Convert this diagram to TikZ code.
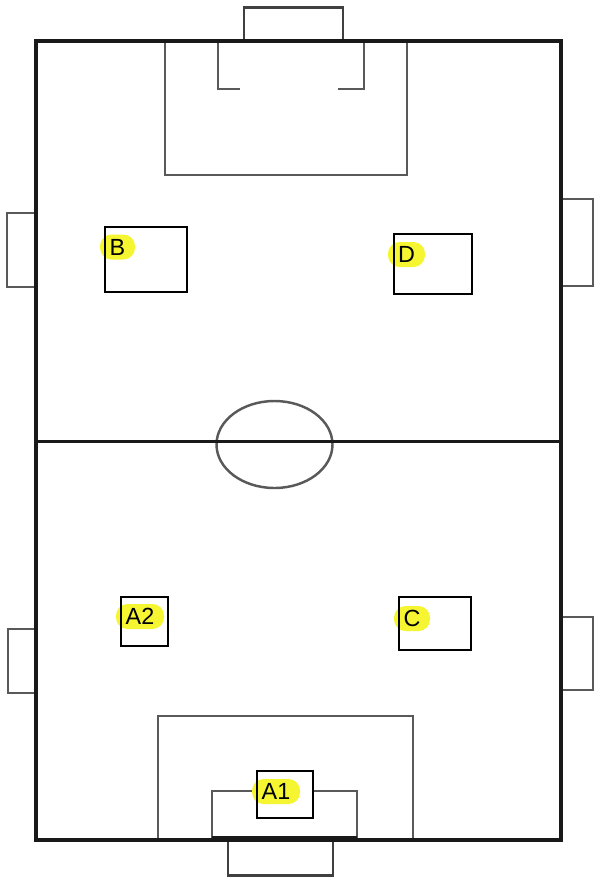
\documentclass[tikz,border=0pt]{standalone}
\usepackage{fontspec}
\setmainfont{Liberation Sans}
\definecolor{marker}{RGB}{245,245,50}
\tikzset{
  pitch/.style={
    line width=2.1pt,
    draw=black!90
  },
  area/.style={
    line width=1.4pt,
    draw=black!65
  },
  goal/.style={
    line width=1.7pt,
    draw=black!75
  },
  zone/.style={
    line width=1.5pt,
    draw=black
  },
  tag/.style={
    shape = rectangle,
    fill=marker,
    rounded corners=0.23cm,
    inner sep=0pt,
    minimum height=0.5cm,
    font=\fontsize{13.3}{15}\selectfont
  },
}

\begin{document}
\begin{tikzpicture}[x=0.02cm,y=-0.02cm]
  \useasboundingbox (0,0) rectangle (596,877);
  % goals and side boxes
  \draw[goal] (244,41) |- (343,7) -- (343,41);
  \draw[goal] (228,840) |- (333,875) -- (333,840);
  \draw[area] (36,213) -| (7,287) -- (36,287);
  \draw[area] (36,629) -| (8,693) -- (36,693);
  \draw[area] (561,199) -| (593,286) -- (561,286);
  \draw[area] (561,617) -| (593,690) -- (561,690);
  % penalty areas
  \draw[area] (165,41) |- (407,175) -- (407,41);
  \draw[area] (240,89) -| (218,41);
  \draw[area] (338,89) -| (364,41);
  \draw[area] (158,840) |- (413,716) -- (413,840);
  \draw[area] (212,838) |- (357,791) -- (357,838);
  % centre
  \draw[area] (274.5,444.5) ellipse (58 and 43.5);
  \draw[pitch] (36,41) rectangle (561,840);
  \draw[pitch,line width=1.7pt] (36,441) -- (561,441);
  \draw[pitch] (212,838) -- (357,838);
  % zones with their tags
  \foreach \name/\xa/\ya/\xb/\yb/\lx/\ly/\lw in {
    B/105/227/187/292/117.5/247/35,
    D/394/234/472/294/406.5/254.5/37,
    A2/121/597/168/646/140/616.5/48,
    C/399/597/471/650/412/618.5/36,
    A1/257/771/313/818/276/791.5/48}{
    \fill[white] (\xa,\ya) rectangle (\xb,\yb);
    \node[tag,minimum width=\lw*0.02cm] (tag\name) at (\lx,\ly) {\name};
    \draw[zone] (\xa,\ya) rectangle (\xb,\yb);
  }
\end{tikzpicture}
\end{document}
